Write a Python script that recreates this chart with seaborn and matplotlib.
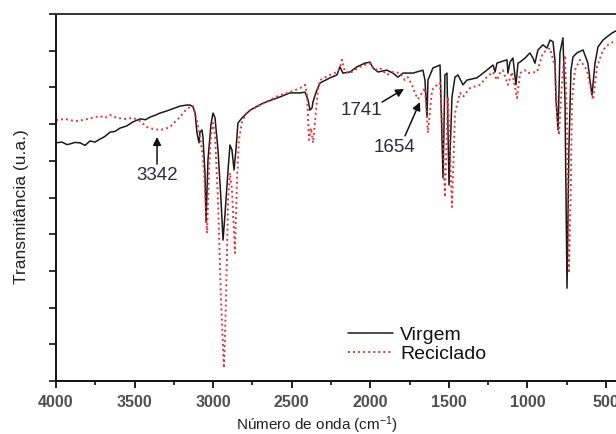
import numpy as np
import pandas as pd
import matplotlib
matplotlib.use("Agg")
import matplotlib.pyplot as plt
import seaborn as sns

# ---- data (wavenumber cm-1, transmittance a.u.) ----
virgem_wn = [4000, 3962, 3930, 3911, 3880, 3847, 3815, 3784, 3752, 3720, 3690, 3656, 3625, 3593, 3550,
             3510, 3465, 3430, 3402, 3370, 3338, 3294, 3243, 3211, 3166, 3147, 3128, 3115, 3103, 3090,
             3084, 3071, 3065, 3052, 3045, 3033, 3014, 3001, 2988, 2969, 2950, 2937, 2925, 2905, 2893,
             2880, 2867, 2855, 2842, 2816, 2765, 2683, 2575, 2511, 2447, 2415, 2396, 2384, 2371, 2365,
             2345, 2320, 2256, 2212, 2193, 2174, 2129, 2085, 2034, 2002, 1983, 1951, 1894, 1856, 1824,
             1792, 1728, 1665, 1652, 1639, 1633, 1601, 1556, 1537, 1525, 1512, 1499, 1480, 1461, 1442,
             1410, 1385, 1321, 1258, 1219, 1206, 1194, 1175, 1130, 1124, 1111, 1092, 1073, 1060, 1047,
             1015, 984, 965, 952, 933, 901, 876, 856, 837, 825, 818, 805, 793, 774, 761, 748, 736, 723,
             710, 685, 646, 615, 602, 589, 570, 551, 519, 487, 462, 436]
virgem_t = [6.49, 6.51, 6.44, 6.46, 6.50, 6.49, 6.42, 6.54, 6.51, 6.59, 6.66, 6.78, 6.80, 6.89, 6.95,
            7.06, 7.14, 7.12, 7.19, 7.24, 7.30, 7.36, 7.44, 7.49, 7.52, 7.52, 7.47, 7.30, 6.76, 6.49,
            6.78, 6.84, 6.65, 5.67, 4.33, 6.02, 6.98, 7.30, 7.17, 6.29, 4.93, 3.84, 4.52, 5.75, 6.43,
            6.29, 5.75, 6.29, 7.03, 7.17, 7.38, 7.57, 7.74, 7.85, 7.85, 7.87, 7.66, 7.38, 7.44, 7.60,
            7.87, 8.12, 8.26, 8.34, 8.56, 8.39, 8.42, 8.56, 8.66, 8.69, 8.53, 8.42, 8.47, 8.39, 8.28,
            8.39, 8.39, 8.47, 8.20, 7.19, 8.20, 8.53, 8.61, 5.53, 8.34, 8.39, 5.34, 7.74, 8.28, 8.34,
            8.07, 8.20, 8.26, 8.47, 8.61, 8.42, 8.66, 8.69, 8.75, 8.39, 8.69, 8.80, 8.07, 8.66, 8.69,
            8.80, 8.94, 8.80, 8.66, 9.02, 9.16, 9.07, 9.29, 9.24, 8.75, 7.66, 6.84, 8.94, 9.35, 7.66,
            2.53, 6.29, 8.47, 8.83, 8.94, 9.02, 8.66, 8.20, 7.79, 8.66, 9.10, 9.29, 9.40, 9.48, 9.54]

reciclado_wn = [4000, 3943, 3879, 3828, 3771, 3720, 3688, 3656, 3612, 3561, 3510, 3465, 3421, 3383, 3338,
                3306, 3275, 3243, 3211, 3179, 3147, 3128, 3103, 3084, 3065, 3052, 3039, 3026, 3014, 3001,
                2988, 2969, 2950, 2931, 2918, 2905, 2893, 2880, 2861, 2848, 2836, 2816, 2784, 2721, 2638,
                2575, 2511, 2447, 2415, 2402, 2390, 2377, 2364, 2345, 2333, 2320, 2256, 2212, 2193, 2180,
                2161, 2129, 2065, 2002, 1970, 1938, 1894, 1856, 1811, 1780, 1761, 1735, 1716, 1697, 1671,
                1652, 1633, 1607, 1575, 1556, 1537, 1525, 1512, 1506, 1493, 1480, 1468, 1461, 1429, 1410,
                1366, 1302, 1258, 1219, 1194, 1175, 1156, 1124, 1098, 1066, 1047, 1015, 996, 939, 901,
                856, 825, 812, 799, 787, 774, 761, 748, 736, 723, 717, 698, 666, 621, 602, 583, 570, 557,
                519, 487, 455, 436]
reciclado_t = [7.11, 7.14, 7.08, 7.11, 7.17, 7.22, 7.17, 7.25, 7.17, 7.14, 7.17, 7.08, 6.92, 6.87, 6.84,
               6.87, 6.92, 7.06, 7.19, 7.36, 7.47, 7.49, 7.11, 6.65, 6.10, 5.20, 4.03, 5.75, 6.70, 7.03,
               6.70, 4.93, 2.21, 0.35, 2.21, 4.93, 5.67, 5.20, 3.49, 5.48, 6.57, 7.06, 7.33, 7.47, 7.66,
               7.79, 7.87, 7.98, 8.07, 7.79, 6.57, 6.89, 6.49, 7.38, 7.93, 8.20, 8.34, 8.42, 8.53, 8.75,
               8.42, 8.39, 8.56, 8.66, 8.47, 8.53, 8.34, 8.42, 8.39, 8.20, 8.28, 8.07, 7.85, 7.68, 7.85,
               7.98, 6.76, 7.93, 8.07, 8.12, 6.57, 5.01, 6.84, 7.74, 6.29, 4.74, 6.29, 7.30, 7.85, 7.74,
               7.98, 8.07, 8.28, 8.42, 8.20, 8.39, 8.47, 8.07, 8.42, 7.71, 8.39, 8.47, 8.39, 8.42, 8.94,
               9.07, 8.56, 7.38, 6.70, 7.66, 8.47, 8.88, 7.11, 2.94, 5.48, 7.57, 8.47, 8.75, 8.47, 8.07,
               7.66, 8.07, 8.56, 9.02, 9.16, 9.24, 9.27]

series_names = ["Virgem", "Reciclado"]
x_ticks = [4000, 3500, 3000, 2500, 2000, 1500, 1000, 500]

df = pd.concat([
    pd.DataFrame({"wn": virgem_wn, "T": virgem_t, "Amostra": series_names[0]}),
    pd.DataFrame({"wn": reciclado_wn, "T": reciclado_t, "Amostra": series_names[1]}),
], ignore_index=True)

sns.set_theme(style="ticks")
plt.rcParams["font.family"] = ["Liberation Sans", "DejaVu Sans"]
plt.rcParams["mathtext.fontset"] = "custom"
plt.rcParams["mathtext.rm"] = "Liberation Sans"
plt.rcParams["mathtext.it"] = "Liberation Sans:italic"

fig = plt.figure(figsize=(6.16, 4.34), dpi=100)
ax = fig.add_axes([56 / 616, 53 / 434, 565.7 / 616, 367 / 434])

sns.lineplot(data=df[df.Amostra == "Virgem"], x="wn", y="T", ax=ax, color="#1a1a1a",
             linewidth=1.1, label="Virgem", sort=False, estimator=None)
sns.lineplot(data=df[df.Amostra == "Reciclado"], x="wn", y="T", ax=ax, color="#e8323c",
             linewidth=1.4, linestyle=(0, (1, 1.6)), label="Reciclado", sort=False, estimator=None)

ax.set_xlim(4000, 400)
ax.set_ylim(0, 10)
ax.set_xticks(x_ticks)
ax.set_xticklabels([str(t) for t in x_ticks])
ax.set_xticks([3750, 3250, 2750, 2250, 1750, 1250, 750], minor=True)
ax.set_yticks(np.arange(0, 11, 1))
ax.set_yticklabels([])

for s in ["left", "bottom", "top"]:
    ax.spines[s].set_linewidth(1.4)
    ax.spines[s].set_color("#111111")
ax.spines["top"].set_color("#333333")
ax.spines["right"].set_visible(False)

ax.tick_params(axis="x", which="major", length=5, width=1.3, pad=5, direction="out",
               labelsize=11.5, labelcolor="#505050", color="#111111")
ax.tick_params(axis="x", which="minor", length=3, width=1.2, direction="out", color="#111111")
ax.tick_params(axis="y", which="major", length=5, width=1.2, direction="out", color="#111111")
for lab in ax.get_xticklabels():
    lab.set_fontweight("bold")

ax.set_xlabel(r"Número de onda (cm$^{-1}$)", fontsize=11, color="#222222")
ax.xaxis.set_label_coords(0.461, -0.092)
ax.set_ylabel("Transmitância (u.a.)", fontsize=12.5, color="#222222")
ax.yaxis.set_label_coords(-0.047, 0.474)

# annotations
arrow = dict(arrowstyle="-|>", color="#111111", lw=1.1, mutation_scale=12, shrinkA=0, shrinkB=0)
ax.annotate("", xy=(3357, 6.65), xytext=(3357, 5.91), arrowprops=arrow)
ax.text(3357, 5.61, "3342", ha="center", va="center", fontsize=13.5, color="#2b2b3b")
ax.annotate("", xy=(1785, 7.96), xytext=(1925, 7.60), arrowprops=arrow)
ax.text(2059, 7.36, "1741", ha="center", va="center", fontsize=13.5, color="#2b2b3b")
ax.annotate("", xy=(1684, 7.60), xytext=(1779, 6.68), arrowprops=arrow)
ax.text(1843, 6.35, "1654", ha="center", va="center", fontsize=13.5, color="#2b2b3b")

leg = ax.legend(loc="upper left", bbox_to_anchor=(0.516, 0.149), frameon=False, fontsize=14,
                handlelength=2.3, handletextpad=0.4, labelspacing=0.05, borderaxespad=0,
                borderpad=0)
for t in leg.get_texts():
    t.set_color("#111111")

fig.savefig("out.png", dpi=100)
